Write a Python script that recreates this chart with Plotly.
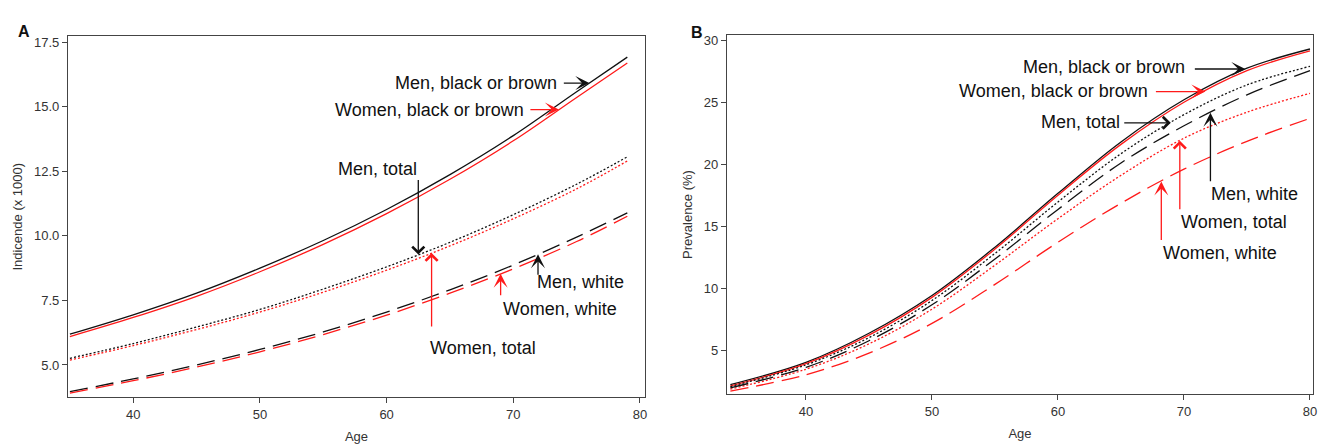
import numpy as np
import plotly.graph_objects as go

# ---------------- data ----------------
ages_a = [35, 40, 45, 50, 55, 60, 65, 70, 75, 79]
inc_men_bb = [6.19, 6.94, 7.78, 8.75, 9.82, 11.02, 12.37, 13.88, 15.58, 16.92]
inc_women_bb = [6.10, 6.84, 7.66, 8.61, 9.67, 10.86, 12.19, 13.68, 15.36, 16.69]
inc_men_total = [5.26, 5.83, 6.47, 7.15, 7.94, 8.80, 9.75, 10.82, 12.00, 13.06]
inc_women_total = [5.19, 5.75, 6.37, 7.05, 7.82, 8.67, 9.61, 10.66, 11.82, 12.90]
inc_men_white = [3.97, 4.46, 5.00, 5.60, 6.28, 7.05, 7.91, 8.87, 9.95, 10.89]
inc_women_white = [3.91, 4.39, 4.92, 5.51, 6.18, 6.93, 7.78, 8.72, 9.78, 10.76]

ages_b = [34, 40, 45, 50, 55, 60, 65, 70, 75, 80]
prev_men_bb = [2.20, 4.00, 6.35, 9.40, 13.30, 17.65, 21.80, 25.20, 27.75, 29.30]
prev_women_bb = [2.10, 3.90, 6.20, 9.25, 13.15, 17.50, 21.60, 25.00, 27.55, 29.15]
prev_men_total = [2.05, 3.80, 6.00, 9.00, 12.80, 16.95, 20.85, 24.00, 26.40, 27.90]
prev_men_white = [1.95, 3.60, 5.75, 8.65, 12.35, 16.35, 20.10, 23.10, 25.60, 27.55]
prev_women_total = [1.85, 3.45, 5.50, 8.30, 11.85, 15.60, 19.10, 22.10, 24.20, 25.72]
prev_women_white = [1.69, 3.00, 4.75, 7.15, 10.30, 13.70, 16.85, 19.60, 21.85, 23.70]

x_ticks = [40, 50, 60, 70, 80]
a_y_ticks = [5.0, 7.5, 10.0, 12.5, 15.0, 17.5]
b_y_ticks = [5, 10, 15, 20, 25, 30]

BLACK = "#111111"
RED = "#ff1a1a"
DASH = "18px,8px"
DOT = "2px,2px"
FONT = "Liberation Sans, Arial, sans-serif"

series_a = [
    ("Men, black or brown", inc_men_bb, BLACK, "solid"),
    ("Women, black or brown", inc_women_bb, RED, "solid"),
    ("Men, total", inc_men_total, BLACK, DOT),
    ("Women, total", inc_women_total, RED, DOT),
    ("Men, white", inc_men_white, BLACK, DASH),
    ("Women, white", inc_women_white, RED, DASH),
]
series_b = [
    ("Men, black or brown", prev_men_bb, BLACK, "solid"),
    ("Women, black or brown", prev_women_bb, RED, "solid"),
    ("Men, total", prev_men_total, BLACK, DOT),
    ("Women, total", prev_women_total, RED, DOT),
    ("Men, white", prev_men_white, BLACK, DASH),
    ("Women, white", prev_women_white, RED, DASH),
]

fig = go.Figure()
for name, vals, col, dash in series_a:
    fig.add_trace(go.Scatter(x=ages_a, y=vals, mode="lines", name=name,
                             line=dict(color=col, width=1.3, dash=dash, shape="spline"),
                             xaxis="x", yaxis="y", showlegend=False))
for name, vals, col, dash in series_b:
    fig.add_trace(go.Scatter(x=ages_b, y=vals, mode="lines", name=name,
                             line=dict(color=col, width=1.3, dash=dash, shape="spline"),
                             xaxis="x2", yaxis="y2", showlegend=False))

# annotation specs: (panel, text, series, color, tip_age, dx, dy, tx, ty, xanchor, open)
labels = [
    ("a", "Men, black or brown", inc_men_bb, BLACK, 76.0, -27, 0, -30, 0, "right", False),
    ("a", "Women, black or brown", inc_women_bb, RED, 73.6, -30, 0, -33, 0, "right", False),
    ("a", "Men, total", inc_men_total, BLACK, 62.5, 0, -76, 1, -86, "right", True),
    ("a", "Women, total", inc_women_total, RED, 63.55, 0, 75, -4, 95, "left", True),
    ("a", "Men, white", inc_men_white, BLACK, 71.95, 0, 22, -3, 28, "left", False),
    ("a", "Women, white", inc_women_white, RED, 69.0, 0, 23, 0, 35, "left", False),
    ("b", "Men, black or brown", prev_men_bb, BLACK, 74.87, -52, 0, -58, -2, "right", False),
    ("b", "Women, black or brown", prev_women_bb, RED, 71.7, -51, 0, -55, -1, "right", False),
    ("b", "Men, total", prev_men_total, BLACK, 68.95, -48, 0, -49, -1, "right", True),
    ("b", "Men, white", prev_men_white, BLACK, 72.1, 0, 70, -1, 81, "left", False),
    ("b", "Women, total", prev_women_total, RED, 69.67, 0, 70, -1, 81, "left", True),
    ("b", "Women, white", prev_women_white, RED, 68.2, 0, 60, 0, 72, "left", False),
]

annotations = []
for panel, text, vals, col, age, dx, dy, tx, ty, xa, is_open in labels:
    ages = ages_a if panel == "a" else ages_b
    yv = float(np.interp(age, ages, vals))
    xr, yr = ("x", "y") if panel == "a" else ("x2", "y2")
    annotations.append(dict(
        x=age, y=yv, xref=xr, yref=yr, text="", showarrow=True,
        ax=dx, ay=dy, arrowcolor=col, arrowwidth=1.3,
        arrowhead=4 if is_open else 3, arrowsize=1.8, standoff=0))
    annotations.append(dict(
        x=age, y=yv, xref=xr, yref=yr, text=text, showarrow=False,
        xanchor=xa, yanchor="middle", xshift=tx, yshift=-ty,
        font=dict(family=FONT, size=18, color=BLACK)))

annotations.append(dict(text="<b>A</b>", xref="x domain", yref="y domain",
                        x=-0.090, y=1.044, showarrow=False,
                        font=dict(family=FONT, size=16, color="#111")))
annotations.append(dict(text="<b>B</b>", xref="x2 domain", yref="y2 domain",
                        x=-0.065, y=1.037, showarrow=False,
                        font=dict(family=FONT, size=16, color="#111")))

axis_common = dict(showgrid=False, zeroline=False, showline=True, mirror=True,
                   linecolor="#444", linewidth=1.2, ticks="outside", ticklen=5,
                   tickcolor="#444", tickwidth=1.1, automargin=False,
                   tickfont=dict(family=FONT, size=13, color="#333"))

fig.update_layout(
    width=1318, height=446,
    margin=dict(l=68, r=5, t=35, b=49),
    plot_bgcolor="white", paper_bgcolor="white",
    font=dict(family=FONT, color="#333"),
    xaxis=dict(domain=[0, 0.4635], range=[34.85, 80.4], tickvals=x_ticks,
               title=dict(text="Age", standoff=11, font=dict(size=13, color="#333")),
               anchor="y", **axis_common),
    yaxis=dict(domain=[0, 0.9959], range=[3.76, 17.72], tickvals=a_y_ticks,
               tickformat=".1f",
               title=dict(text="Indicende (x 1000)", standoff=8, font=dict(size=13, color="#333")),
               anchor="x", **axis_common),
    xaxis2=dict(domain=[0.5293, 1], range=[33.73, 80.24], tickvals=x_ticks,
                title=dict(text="Age", standoff=11, font=dict(size=13, color="#333")),
                anchor="y2", **axis_common),
    yaxis2=dict(domain=[0.0083, 1], range=[1.45, 30.43], tickvals=b_y_ticks,
                title=dict(text="Prevalence (%)", standoff=8, font=dict(size=13, color="#333")),
                anchor="x2", **axis_common),
    annotations=annotations,
)

fig.write_html("out.html", config={"displayModeBar": False},
               post_script="document.body.style.margin='0';document.body.style.padding='0';")
